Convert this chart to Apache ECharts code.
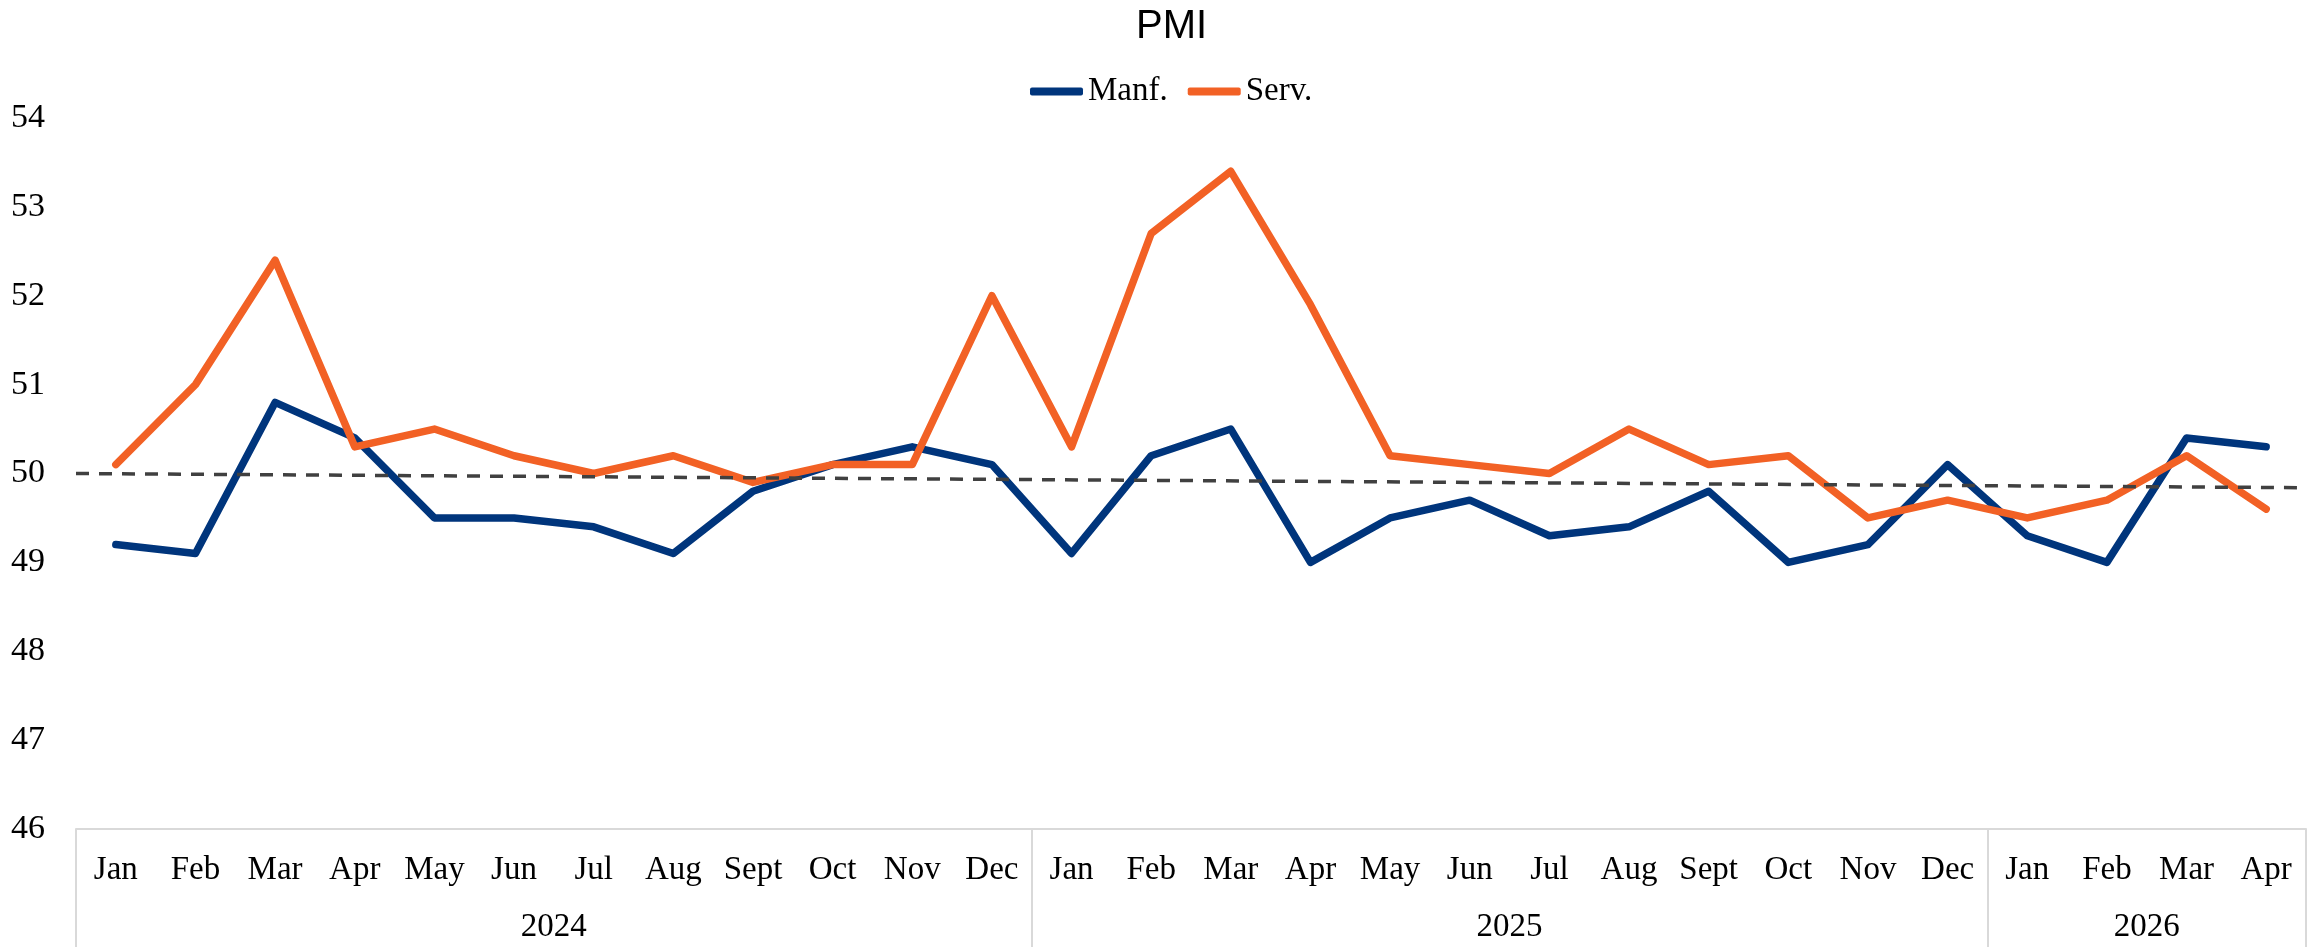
<!DOCTYPE html>
<html>
<head>
<meta charset="utf-8">
<title>PMI</title>
<script src="https://cdn.jsdelivr.net/npm/echarts@6/dist/echarts.min.js"></script>
<style>
  html, body { margin: 0; padding: 0; background: #fff; }
  #chart { width: 2310px; height: 947px; }
</style>
</head>
<body>
<div id="chart"></div>
<script>
// categories
var months = ["Jan", "Feb", "Mar", "Apr", "May", "Jun", "Jul", "Aug", "Sept", "Oct", "Nov", "Dec",
  "Jan", "Feb", "Mar", "Apr", "May", "Jun", "Jul", "Aug", "Sept", "Oct", "Nov", "Dec",
  "Jan", "Feb", "Mar", "Apr"];
var years = ["2024", "2025", "2026"];
var yearMonths = [12, 12, 4];

// series values
var manf = [49.2, 49.1, 50.8, 50.4, 49.5, 49.5, 49.4, 49.1, 49.8, 50.1, 50.3, 50.1,
  49.1, 50.2, 50.5, 49.0, 49.5, 49.7, 49.3, 49.4, 49.8, 49.0, 49.2, 50.1,
  49.3, 49.0, 50.4, 50.3];
var serv = [50.1, 51.0, 52.4, 50.3, 50.5, 50.2, 50.0, 50.2, 49.9, 50.1, 50.1, 52.0,
  50.3, 52.7, 53.4, 51.9, 50.2, 50.1, 50.0, 50.5, 50.1, 50.2, 49.5, 49.7,
  49.5, 49.7, 50.2, 49.6];
// dashed trend line, value at the left and right edge of the plot
var trendEnds = [50.0, 49.84];

var yMin = 46, yMax = 54, yStep = 1;

// group boundaries and centres on the year axis
var seps = [0], centers = [], yearAt = {};
var acc = 0;
yearMonths.forEach(function (n, i) {
  centers.push(acc + n / 2);
  yearAt[acc + n / 2] = years[i];
  acc += n;
  seps.push(acc);
});

var serif = "'Liberation Serif', 'Times New Roman', serif";
var gridColor = "#d9d9d9";

var chart = echarts.init(document.getElementById("chart"));
chart.setOption({
  animation: false,
  title: {
    text: "PMI",
    left: 1131,
    top: 2,
    textStyle: { fontFamily: "'Liberation Sans', Arial, sans-serif", fontSize: 40, fontWeight: "normal", color: "#000" }
  },
  legend: {
    data: ["Manf.", "Serv."],
    left: 1025,
    top: 70,
    icon: "roundRect",
    itemWidth: 53,
    itemHeight: 8,
    itemGap: 20,
    textStyle: { fontFamily: serif, fontSize: 33, color: "#000" }
  },
  grid: { left: 76, right: 4, top: 118, bottom: 118 },
  xAxis: [
    {
      type: "category",
      data: months,
      boundaryGap: true,
      axisLine: { show: true, lineStyle: { color: gridColor, width: 2 } },
      axisTick: { show: false },
      axisLabel: { interval: 0, margin: 25, fontFamily: serif, fontSize: 33, color: "#000" },
      splitLine: { show: false }
    },
    {
      type: "value",
      min: 0,
      max: months.length,
      position: "bottom",
      axisLine: { show: false },
      splitLine: { show: false },
      axisTick: { show: true, customValues: seps, length: 118, lineStyle: { color: gridColor, width: 2 } },
      axisLabel: {
        customValues: centers,
        margin: 82,
        fontFamily: serif,
        fontSize: 33,
        color: "#000",
        formatter: function (v) { return yearAt[v] || ""; }
      }
    }
  ],
  yAxis: {
    type: "value",
    min: yMin,
    max: yMax,
    interval: yStep,
    axisLine: { show: false },
    axisTick: { show: false },
    splitLine: { show: false },
    axisLabel: { align: "left", margin: 65, fontFamily: serif, fontSize: 34, color: "#000" }
  },
  series: [
    {
      name: "Manf.",
      type: "line",
      data: manf,
      symbol: "none",
      color: "#00357c",
      lineStyle: { width: 7.5, color: "#00357c", join: "round", cap: "round" }
    },
    {
      name: "Serv.",
      type: "line",
      data: serv,
      symbol: "none",
      color: "#f26125",
      lineStyle: { width: 7.5, color: "#f26125", join: "round", cap: "round" }
    },
    {
      name: "trend",
      type: "line",
      xAxisIndex: 1,
      data: [[0, trendEnds[0]], [months.length, trendEnds[1]]],
      symbol: "none",
      silent: true,
      lineStyle: { width: 3.5, color: "#404040", type: [13, 10] }
    }
  ]
});
window.onresize = function () { chart.resize(); };
</script>
</body>
</html>
